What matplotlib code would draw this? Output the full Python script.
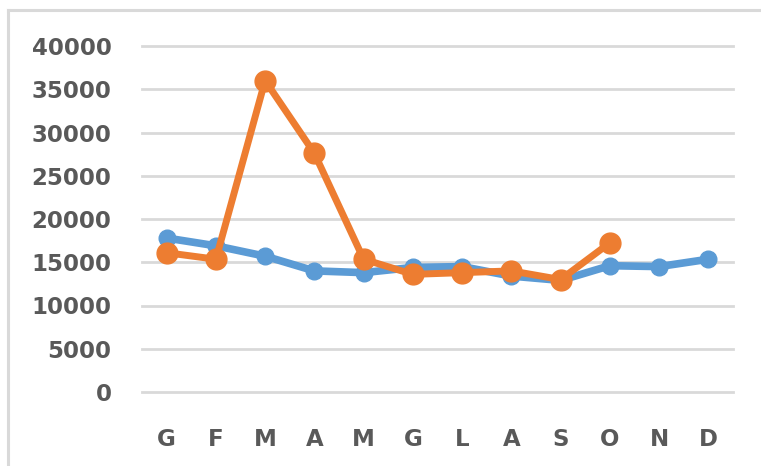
import matplotlib
matplotlib.use("Agg")
import matplotlib.pyplot as plt
from matplotlib.lines import Line2D

months = ["G", "F", "M", "A", "M", "G", "L", "A", "S", "O", "N", "D"]
serie_blu = [17800, 16900, 15700, 14000, 13800, 14400, 14500, 13400, 12900, 14600, 14500, 15350]
serie_arancio = [16100, 15350, 36000, 27600, 15350, 13600, 13800, 14000, 13000, 17250]
y_ticks = [0, 5000, 10000, 15000, 20000, 25000, 30000, 35000, 40000]

W, H = 761, 466
fig = plt.figure(figsize=(W/100, H/100), dpi=100)
ax = fig.add_axes([142/W, 1-392/H, (733-142)/W, (392-46)/H])

x1 = list(range(len(serie_blu)))
x2 = list(range(len(serie_arancio)))
ax.plot(x1, serie_blu, color="#5B9BD5", lw=5.5, marker="o", ms=12, zorder=3, solid_capstyle="round")
ax.plot(x2, serie_arancio, color="#ED7D31", lw=5, marker="o", ms=15, zorder=4, solid_capstyle="round")

ax.set_xlim(-0.5, len(months) - 0.5)
ax.set_ylim(0, 40000)
ax.set_yticks(y_ticks)
ax.set_yticklabels([str(v) for v in y_ticks])
ax.set_xticks(range(len(months)))
ax.set_xticklabels(months)
ax.grid(axis="y", color="#D9D9D9", lw=2)
for gl in ax.get_ygridlines():
    gl.set_clip_on(False)
ax.set_axisbelow(True)
for s in ax.spines.values():
    s.set_visible(False)
ax.tick_params(length=0, labelsize=16.5, labelcolor="#595959")
ax.tick_params(axis="y", pad=22)
ax.tick_params(axis="x", pad=26)
for lab in ax.get_xticklabels() + ax.get_yticklabels():
    lab.set_fontweight("bold")

# outer chart frame (top and left edges visible)
fig.lines.append(Line2D([7.5/W, 1.0], [1-10/H, 1-10/H], transform=fig.transFigure,
                        color="#D9D9D9", lw=2.2))
fig.lines.append(Line2D([7.5/W, 7.5/W], [0.0, 1-10/H], transform=fig.transFigure,
                        color="#D9D9D9", lw=2.2))

fig.savefig("out.png", dpi=100)
